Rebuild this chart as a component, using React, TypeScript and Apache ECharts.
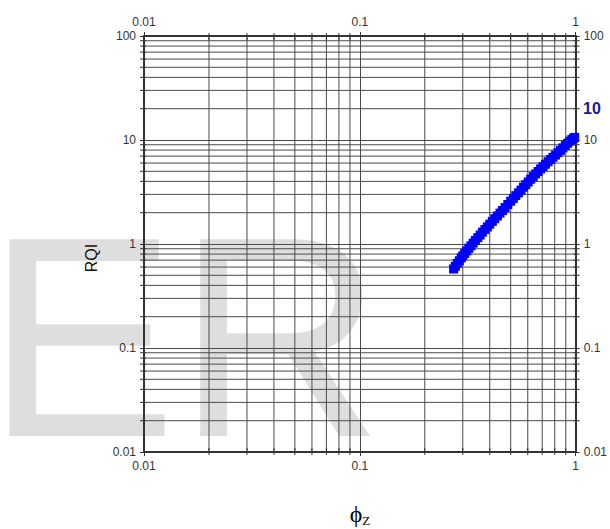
import React, { useEffect, useRef } from "react";
import * as echarts from "echarts";

const phiZ = [
  0.272, 0.277, 0.283, 0.289, 0.295, 0.3, 0.306, 0.313, 0.32, 0.327, 0.335, 0.343, 0.352, 0.361, 0.37, 0.38,
  0.39, 0.4, 0.411, 0.422, 0.434, 0.446, 0.458, 0.471, 0.485, 0.5, 0.514, 0.528, 0.543, 0.558, 0.573, 0.588,
  0.603, 0.619, 0.636, 0.653, 0.67, 0.688, 0.706, 0.725, 0.745, 0.765, 0.785, 0.806, 0.828, 0.85, 0.873,
  0.896, 0.918, 0.94, 0.96, 0.978, 0.99,
];
const rqi = [
  0.575, 0.61, 0.65, 0.69, 0.735, 0.77, 0.81, 0.86, 0.91, 0.96, 1.02, 1.08, 1.15, 1.22, 1.3, 1.38,
  1.46, 1.55, 1.65, 1.75, 1.86, 1.98, 2.1, 2.24, 2.4, 2.58, 2.74, 2.92, 3.1, 3.3, 3.52, 3.73,
  3.95, 4.2, 4.45, 4.72, 4.98, 5.27, 5.55, 5.85, 6.18, 6.5, 6.82, 7.16, 7.55, 7.95, 8.4,
  8.85, 9.3, 9.75, 10.1, 10.4, 10.6,
];
const minorX = [0.02, 0.03, 0.04, 0.05, 0.06, 0.07, 0.08, 0.09, 0.2, 0.3, 0.4, 0.5, 0.6, 0.7, 0.8, 0.9];
const minorY = [
  0.02, 0.03, 0.04, 0.05, 0.06, 0.07, 0.08, 0.09, 0.2, 0.3, 0.4, 0.5, 0.6, 0.7, 0.8, 0.9,
  2, 3, 4, 5, 6, 7, 8, 9, 20, 30, 40, 50, 60, 70, 80, 90,
];
const xMin = 0.01, xMax = 1, yMin = 0.01, yMax = 100;
const cornerLabel = "10";
const xName = "ϕ";
const xSub = "Z";
const yName = "RQI";
const watermark = "ER";

const GRID = "#4a4a4a";
const AXIS = "#333";
const FONT = "'Liberation Sans', Arial, sans-serif";
const SERIF = "'Liberation Serif', 'Times New Roman', serif";

export default function App() {
  const ref = useRef<HTMLDivElement>(null);
  useEffect(() => {
    if (!ref.current) return;
    const chart = echarts.init(ref.current, null, { renderer: "svg" });
    const labelStyle = { color: "#333", fontSize: 12, fontFamily: FONT };
    const axisCommon = (pos: string) => ({
      type: "log",
      logBase: 10,
      position: pos,
      axisLine: { show: true, onZero: false, lineStyle: { color: AXIS, width: 2 } },
      axisTick: { show: true, inside: false, length: 4, lineStyle: { color: AXIS, width: 1 } },
      axisLabel: { ...labelStyle, margin: 8 },
      splitLine: { show: true, lineStyle: { color: GRID, width: 1 } },
      minorTick: { show: false },
    });
    const option: any = {
      animation: false,
      backgroundColor: "#fff",
      grid: { left: 144, right: 34, top: 36, bottom: 77, containLabel: false },
      xAxis: [
        { ...axisCommon("bottom"), min: xMin, max: xMax },
        { ...axisCommon("top"), min: xMin, max: xMax, splitLine: { show: false } },
      ],
      yAxis: [
        { ...axisCommon("left"), min: yMin, max: yMax },
        { ...axisCommon("right"), min: yMin, max: yMax, splitLine: { show: false } },
      ],
      graphic: [
        {
          type: "text",
          z: -10,
          x: -14,
          y: 337,
          style: {
            text: watermark,
            fontFamily: FONT,
            fontSize: 286,
            fill: "#dedede",
            verticalAlign: "middle",
          },
        },
        {
          type: "text",
          x: 583,
          y: 108,
          style: {
            text: cornerLabel,
            fontFamily: FONT,
            fontSize: 16,
            fontWeight: "bold",
            fill: "#1a1a99",
            align: "left",
            verticalAlign: "middle",
          },
        },
        {
          type: "text",
          x: 91,
          y: 258,
          rotation: Math.PI / 2,
          style: {
            text: yName,
            fontFamily: FONT,
            fontSize: 16,
            fill: "#111",
            align: "center",
            verticalAlign: "middle",
          },
        },
        {
          type: "text",
          x: 360,
          y: 514,
          style: {
            text: `{a|${xName}}{b|${xSub}}`,
            align: "center",
            verticalAlign: "middle",
            rich: {
              a: { fontFamily: SERIF, fontSize: 24, color: "#222" },
              b: { fontFamily: SERIF, fontSize: 13, color: "#222", padding: [12, 0, 0, 0] },
            },
          },
        },
      ],
      series: [
        {
          type: "custom",
          xAxisIndex: 0,
          yAxisIndex: 0,
          silent: true,
          z: 1,
          data: minorX.map((v) => [v, 1]),
          renderItem: (params: any, api: any) => {
            const v = api.value(0);
            const t = api.coord([v, yMax]);
            const b = api.coord([v, yMin]);
            const st = { stroke: GRID, lineWidth: 1 };
            const tk = { stroke: AXIS, lineWidth: 1 };
            return {
              type: "group",
              children: [
                { type: "line", shape: { x1: t[0], y1: t[1], x2: b[0], y2: b[1] }, style: st },
                { type: "line", shape: { x1: b[0], y1: b[1] - 4, x2: b[0], y2: b[1] + 3 }, style: tk },
                { type: "line", shape: { x1: t[0], y1: t[1] - 3, x2: t[0], y2: t[1] + 4 }, style: tk },
              ],
            };
          },
        },
        {
          type: "custom",
          xAxisIndex: 0,
          yAxisIndex: 0,
          silent: true,
          z: 1,
          data: minorY.map((v) => [0.1, v]),
          renderItem: (params: any, api: any) => {
            const v = api.value(1);
            const l = api.coord([xMin, v]);
            const r = api.coord([xMax, v]);
            const st = { stroke: GRID, lineWidth: 1 };
            const tk = { stroke: AXIS, lineWidth: 1 };
            return {
              type: "group",
              children: [
                { type: "line", shape: { x1: l[0], y1: l[1], x2: r[0], y2: r[1] }, style: st },
                { type: "line", shape: { x1: l[0] - 4, y1: l[1], x2: l[0] + 2, y2: l[1] }, style: tk },
                { type: "line", shape: { x1: r[0] - 2, y1: r[1], x2: r[0] + 4, y2: r[1] }, style: tk },
              ],
            };
          },
        },
        {
          type: "scatter",
          xAxisIndex: 0,
          yAxisIndex: 0,
          symbol: "rect",
          symbolSize: 9,
          z: 5,
          itemStyle: { color: "#0000ff", opacity: 1 },
          data: phiZ.map((x, i) => [x, rqi[i]]),
        },
      ],
    };
    chart.setOption(option);
    return () => chart.dispose();
  }, []);
  return <div ref={ref} style={{ position: "absolute", left: 0, top: 0, width: 610, height: 529 }} />;
}
